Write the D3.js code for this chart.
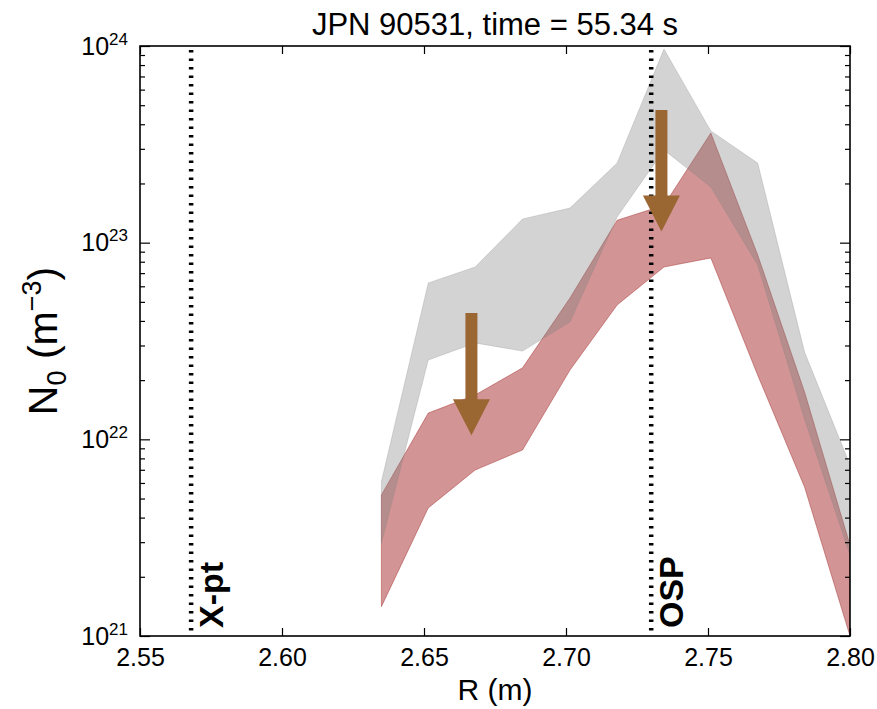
<!DOCTYPE html>
<html>
<head>
<meta charset="utf-8">
<script src="https://cdn.jsdelivr.net/npm/d3@7/dist/d3.min.js"></script>
<style>
  body { margin: 0; background: #fff; }
  text { font-family: "Liberation Sans", Arial, sans-serif; fill: #000; }
</style>
</head>
<body>
<script>
// major radius of each sample (m)
var R = [2.635, 2.6515, 2.668, 2.6847, 2.7014, 2.718, 2.7345, 2.751, 2.7675, 2.784, 2.800];

// neutral density band before (grey) and after (red), m^-3
var beforeLo = [2.97e21, 2.53e22, 3.09e22, 2.81e22, 3.95e22, 1.35e23, 2.96e23, 1.92e23, 7.70e22, 1.27e22, 2.58e21];
var beforeHi = [6.10e21, 6.24e22, 7.52e22, 1.32e23, 1.50e23, 2.54e23, 9.66e23, 3.70e23, 2.54e23, 2.78e22, 7.41e21];
var afterLo  = [1.41e21, 4.48e21, 6.98e21, 8.83e21, 2.25e22, 4.82e22, 7.52e22, 8.36e22, 2.12e22, 5.72e21, 1.00e21];
var afterHi  = [5.21e21, 1.36e22, 1.68e22, 2.31e22, 5.23e22, 1.30e23, 1.55e23, 3.61e23, 8.65e22, 1.74e22, 2.90e21];

var xTicks = [2.55, 2.60, 2.65, 2.70, 2.75, 2.80];
var yDecades = [21, 22, 23, 24];

var markers = [{name: "X-pt", r: 2.568}, {name: "OSP", r: 2.730}];
var arrows = [
  {r: 2.6667, from: 4.39e22, to: 1.05e22},
  {r: 2.7336, from: 4.73e23, to: 1.14e23}
];

var W = 877, H = 709;
var pL = 140, pR = 850, pT = 46, pB = 636;

var svg = d3.select("body").append("svg")
    .attr("width", W)
    .attr("height", H);

var x = d3.scaleLinear().domain([2.55, 2.80]).range([pL, pR]);
var y = d3.scaleLog().domain([1e21, 1e24]).range([pB, pT]);

svg.append("clipPath").attr("id", "plot")
  .append("rect")
    .attr("x", pL).attr("y", pT)
    .attr("width", pR - pL).attr("height", pB - pT);

var band = d3.area()
    .x(function(d) { return x(d.r); })
    .y0(function(d) { return y(d.lo); })
    .y1(function(d) { return y(d.hi); });

var before = R.map(function(r, i) { return {r: r, lo: beforeLo[i], hi: beforeHi[i]}; });
var after = R.map(function(r, i) { return {r: r, lo: afterLo[i], hi: afterHi[i]}; });

var g = svg.append("g").attr("clip-path", "url(#plot)");

g.append("path")
    .attr("d", band(after))
    .attr("fill", "#a52a2a")
    .attr("fill-opacity", 0.5)
    .attr("stroke", "#a52a2a")
    .attr("stroke-opacity", 0.45)
    .attr("stroke-width", 1);

g.append("path")
    .attr("d", band(before))
    .attr("fill", "#808080")
    .attr("fill-opacity", 0.35)
    .attr("stroke", "#808080")
    .attr("stroke-opacity", 0.25)
    .attr("stroke-width", 1);

// dotted markers
markers.forEach(function(m) {
  svg.append("line")
      .attr("x1", x(m.r)).attr("x2", x(m.r))
      .attr("y1", pT + 4).attr("y2", pB - 2)
      .attr("stroke", "#000")
      .attr("stroke-width", 4.5)
      .attr("stroke-dasharray", "2.5,6");

  svg.append("text")
      .attr("transform", "translate(" + (x(m.r) + 32) + "," + (pB - 8) + ") rotate(-90)")
      .attr("font-size", 34)
      .attr("font-weight", "bold")
      .text(m.name);
});

// arrows
arrows.forEach(function(a) {
  var cx = x(a.r), y0 = y(a.from), y1 = y(a.to);
  var headLen = 36, headW = 18.5, shaftW = 6;
  var p = d3.path();
  p.moveTo(cx - shaftW, y0);
  p.lineTo(cx + shaftW, y0);
  p.lineTo(cx + shaftW, y1 - headLen);
  p.lineTo(cx + headW, y1 - headLen);
  p.lineTo(cx, y1);
  p.lineTo(cx - headW, y1 - headLen);
  p.lineTo(cx - shaftW, y1 - headLen);
  p.closePath();
  svg.append("path").attr("d", p.toString()).attr("fill", "#9a6632");
});

// axes, ticks pointing inward on all four sides
function clean(sel) {
  sel.select(".domain").remove();
  sel.selectAll(".tick line").attr("stroke", "#000").attr("stroke-width", 1.2);
}

svg.append("g")
    .attr("transform", "translate(0," + pB + ")")
    .call(d3.axisBottom(x).tickValues(xTicks).tickSize(-8).tickPadding(12).tickFormat(d3.format(".2f")))
    .call(clean)
    .selectAll("text")
    .attr("font-size", 25)
    .attr("font-family", "Liberation Sans, Arial, sans-serif");

svg.append("g")
    .attr("transform", "translate(0," + pT + ")")
    .call(d3.axisTop(x).tickValues(xTicks).tickSize(-8).tickFormat(""))
    .call(clean);

var majors = yDecades.map(function(e) { return Math.pow(10, e); });
var minors = [];
yDecades.slice(0, -1).forEach(function(e) {
  for (var k = 2; k <= 9; k++) minors.push(k * Math.pow(10, e));
});

var yl = svg.append("g")
    .attr("transform", "translate(" + pL + ",0)")
    .call(d3.axisLeft(y).tickValues(majors).tickSize(-10).tickPadding(12).tickFormat(""))
    .call(clean);

yl.selectAll(".tick text")
    .attr("font-size", 25)
    .attr("font-family", "Liberation Sans, Arial, sans-serif")
    .each(function(d) {
      var t = d3.select(this);
      t.append("tspan").text("10");
      t.append("tspan").attr("font-size", 17).attr("dy", -10).text(Math.round(Math.log10(d)));
    });

svg.append("g")
    .attr("transform", "translate(" + pL + ",0)")
    .call(d3.axisLeft(y).tickValues(minors).tickSize(-5).tickFormat(""))
    .call(clean);

svg.append("g")
    .attr("transform", "translate(" + pR + ",0)")
    .call(d3.axisRight(y).tickValues(majors).tickSize(-10).tickFormat(""))
    .call(clean);

svg.append("g")
    .attr("transform", "translate(" + pR + ",0)")
    .call(d3.axisRight(y).tickValues(minors).tickSize(-5).tickFormat(""))
    .call(clean);

// frame
svg.append("rect")
    .attr("x", pL).attr("y", pT)
    .attr("width", pR - pL).attr("height", pB - pT)
    .attr("fill", "none")
    .attr("stroke", "#000")
    .attr("stroke-width", 1.6);

// title and axis labels
svg.append("text")
    .attr("x", (pL + pR) / 2).attr("y", 35)
    .attr("text-anchor", "middle")
    .attr("font-size", 31)
    .text("JPN 90531, time = 55.34 s");

svg.append("text")
    .attr("x", (pL + pR) / 2).attr("y", 700)
    .attr("text-anchor", "middle")
    .attr("font-size", 30)
    .text("R (m)");

var ylab = svg.append("text")
    .attr("transform", "translate(57," + ((pT + pB) / 2) + ") rotate(-90)")
    .attr("text-anchor", "middle")
    .attr("font-size", 41);
ylab.append("tspan").text("N");
ylab.append("tspan").attr("font-size", 27).attr("dy", 9).text("0");
ylab.append("tspan").attr("dy", -9).text(" (m");
ylab.append("tspan").attr("font-size", 27).attr("dy", -16).text("\u22123");
ylab.append("tspan").attr("dy", 16).text(")");
</script>
</body>
</html>
